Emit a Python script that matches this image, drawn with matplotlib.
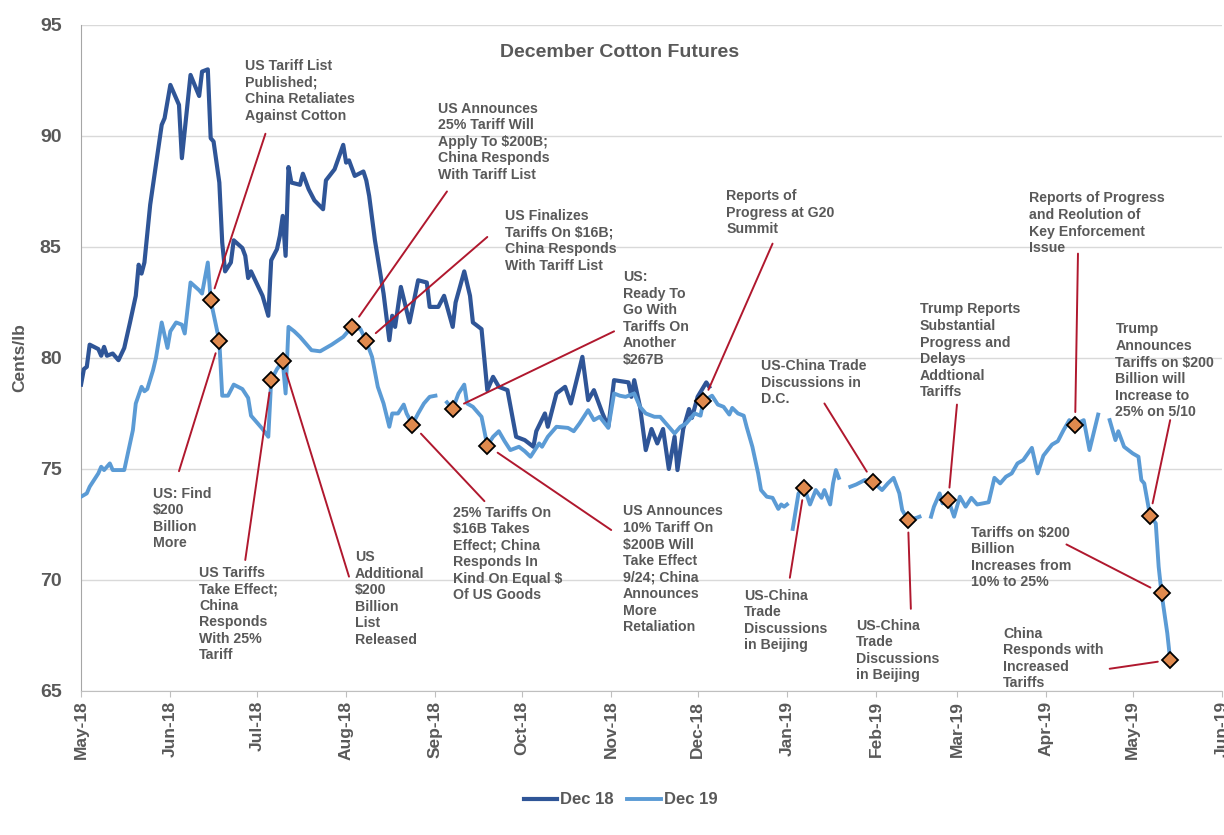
import matplotlib

matplotlib.use("Agg")
import matplotlib.pyplot as plt
import matplotlib.dates as mdates
import numpy as np
import pandas as pd

# Dec 18 contract settles (cents/lb)
dec18_dates = [
    "2018-05-01", "2018-05-02", "2018-05-03", "2018-05-04", "2018-05-07", "2018-05-08",
    "2018-05-09", "2018-05-10", "2018-05-12", "2018-05-14", "2018-05-16", "2018-05-18",
    "2018-05-20", "2018-05-21", "2018-05-22", "2018-05-23", "2018-05-25", "2018-05-27",
    "2018-05-29", "2018-05-30", "2018-06-01", "2018-06-04", "2018-06-05", "2018-06-08",
    "2018-06-11", "2018-06-12", "2018-06-14", "2018-06-15", "2018-06-16", "2018-06-18",
    "2018-06-19", "2018-06-20", "2018-06-22", "2018-06-23", "2018-06-26", "2018-06-27",
    "2018-06-28", "2018-06-29", "2018-07-03", "2018-07-05", "2018-07-06", "2018-07-08",
    "2018-07-09", "2018-07-10", "2018-07-11", "2018-07-12", "2018-07-13", "2018-07-16",
    "2018-07-17", "2018-07-19", "2018-07-21", "2018-07-24", "2018-07-25", "2018-07-28",
    "2018-07-31", "2018-08-01", "2018-08-02", "2018-08-04", "2018-08-07", "2018-08-08",
    "2018-08-09", "2018-08-11", "2018-08-13", "2018-08-14", "2018-08-16", "2018-08-17",
    "2018-08-18", "2018-08-20", "2018-08-23", "2018-08-26", "2018-08-29", "2018-08-30",
    "2018-09-02", "2018-09-04", "2018-09-07", "2018-09-08", "2018-09-11", "2018-09-13",
    "2018-09-14", "2018-09-17", "2018-09-19", "2018-09-21", "2018-09-23", "2018-09-26",
    "2018-09-29", "2018-10-02", "2018-10-05", "2018-10-06", "2018-10-09", "2018-10-10",
    "2018-10-13", "2018-10-16", "2018-10-18", "2018-10-22", "2018-10-24", "2018-10-26",
    "2018-10-29", "2018-10-31", "2018-11-02", "2018-11-07", "2018-11-08", "2018-11-09",
    "2018-11-11", "2018-11-13", "2018-11-15", "2018-11-17", "2018-11-19", "2018-11-21",
    "2018-11-23", "2018-11-24", "2018-11-26", "2018-11-28", "2018-11-29", "2018-12-01",
    "2018-12-04", "2018-12-05",
]
dec18_values = [
    78.8, 79.5, 79.6, 80.6, 80.4, 80.1,
    80.5, 80.1, 80.2, 79.9, 80.45, 81.6,
    82.8, 84.2, 83.8, 84.3, 86.9, 88.7,
    90.5, 90.8, 92.3, 91.4, 89.0, 92.75,
    91.8, 92.9, 93.0, 89.9, 89.75, 87.9,
    85.2, 83.9, 84.3, 85.3, 84.95, 84.6,
    83.6, 83.9, 82.8, 81.9, 84.4, 84.9,
    85.5, 86.4, 84.6, 88.6, 87.9, 87.8,
    88.3, 87.6, 87.1, 86.7, 88.0, 88.5,
    89.6, 88.8, 88.9, 88.2, 88.4, 88.0,
    87.3, 85.3, 83.7, 82.9, 80.8, 81.9,
    81.4, 83.2, 81.6, 83.5, 83.4, 82.3,
    82.3, 82.8, 81.4, 82.5, 83.9, 82.8,
    81.6, 81.3, 78.55, 79.15, 78.7, 78.55,
    76.45, 76.3, 76.0, 76.7, 77.5, 76.9,
    78.4, 78.7, 77.95, 80.05, 78.1, 78.55,
    77.5, 76.9, 79.0, 78.9, 78.25, 79.0,
    77.8, 75.85, 76.8, 76.15, 76.8, 75.0,
    76.45, 74.95, 76.8, 77.7, 77.3, 78.25,
    78.9, 78.7,
]

# Dec 19 contract settles (cents/lb); NaN marks holiday breaks
dec19_dates = [
    "2018-05-01", "2018-05-03", "2018-05-04", "2018-05-07", "2018-05-08", "2018-05-09",
    "2018-05-11", "2018-05-12", "2018-05-16", "2018-05-17", "2018-05-19", "2018-05-20",
    "2018-05-22", "2018-05-23", "2018-05-24", "2018-05-26", "2018-05-27", "2018-05-29",
    "2018-05-31", "2018-06-01", "2018-06-03", "2018-06-05", "2018-06-06", "2018-06-08",
    "2018-06-11", "2018-06-12", "2018-06-14", "2018-06-15", "2018-06-18", "2018-06-19",
    "2018-06-21", "2018-06-23", "2018-06-26", "2018-06-28", "2018-06-29", "2018-07-03",
    "2018-07-05", "2018-07-06", "2018-07-08", "2018-07-10", "2018-07-11", "2018-07-12",
    "2018-07-14", "2018-07-16", "2018-07-20", "2018-07-23", "2018-07-27", "2018-07-31",
    "2018-08-03", "2018-08-06", "2018-08-08", "2018-08-10", "2018-08-12", "2018-08-14",
    "2018-08-16", "2018-08-17", "2018-08-19", "2018-08-21", "2018-08-22", "2018-08-24",
    "2018-08-26", "2018-08-28", "2018-08-30", "2018-09-01", "2018-09-03", "2018-09-05",
    "2018-09-07", "2018-09-09", "2018-09-11", "2018-09-12", "2018-09-14", "2018-09-17",
    "2018-09-19", "2018-09-21", "2018-09-23", "2018-09-25", "2018-09-27", "2018-09-30",
    "2018-10-02", "2018-10-04", "2018-10-07", "2018-10-08", "2018-10-10", "2018-10-13",
    "2018-10-17", "2018-10-19", "2018-10-21", "2018-10-24", "2018-10-26", "2018-10-28",
    "2018-10-31", "2018-11-02", "2018-11-04", "2018-11-06", "2018-11-09", "2018-11-11",
    "2018-11-13", "2018-11-16", "2018-11-18", "2018-11-20", "2018-11-23", "2018-11-25",
    "2018-11-27", "2018-11-30", "2018-12-02", "2018-12-03", "2018-12-06", "2018-12-08",
    "2018-12-10", "2018-12-12", "2018-12-13", "2018-12-15", "2018-12-17", "2018-12-18",
    "2018-12-20", "2018-12-22", "2018-12-23", "2018-12-25", "2018-12-27", "2018-12-29",
    "2018-12-30", "2018-12-31", "2019-01-01", "2019-01-02", "2019-01-03", "2019-01-05",
    "2019-01-07", "2019-01-09", "2019-01-11", "2019-01-13", "2019-01-14", "2019-01-16",
    "2019-01-17", "2019-01-18", "2019-01-19", "2019-01-21", "2019-01-23", "2019-01-25",
    "2019-01-28", "2019-01-31", "2019-02-03", "2019-02-05", "2019-02-07", "2019-02-09",
    "2019-02-10", "2019-02-12", "2019-02-15", "2019-02-16", "2019-02-18", "2019-02-20",
    "2019-02-21", "2019-02-23", "2019-02-24", "2019-02-26", "2019-02-28", "2019-03-02",
    "2019-03-04", "2019-03-06", "2019-03-08", "2019-03-12", "2019-03-13", "2019-03-14",
    "2019-03-16", "2019-03-18", "2019-03-20", "2019-03-22", "2019-03-24", "2019-03-27",
    "2019-03-29", "2019-03-31", "2019-04-03", "2019-04-05", "2019-04-07", "2019-04-09",
    "2019-04-11", "2019-04-14", "2019-04-16", "2019-04-19", "2019-04-21", "2019-04-23",
    "2019-04-25", "2019-04-26", "2019-04-28", "2019-05-01", "2019-05-03", "2019-05-04",
    "2019-05-05", "2019-05-07", "2019-05-09", "2019-05-10", "2019-05-11", "2019-05-13",
    "2019-05-14",
]
dec19_values = [
    73.75, 73.9, 74.2, 74.8, 75.1, 74.95,
    75.25, 74.95, 74.95, 75.55, 76.75, 77.95,
    78.7, 78.5, 78.6, 79.45, 80.0, 81.6,
    80.45, 81.2, 81.6, 81.5, 81.1, 83.4,
    83.05, 82.9, 84.3, 82.6, 80.75, 78.3,
    78.3, 78.8, 78.6, 78.2, 77.4, 76.8,
    76.45, 79.0, 79.5, 79.85, 78.4, 81.4,
    81.2, 80.95, 80.35, 80.3, 80.6, 80.95,
    81.4, 81.3, 80.75, 80.05, 78.7, 77.95,
    76.9, 77.5, 77.5, 77.9, 77.5, 77.0,
    77.5, 77.95, 78.25, 78.3, np.nan, 78.0,
    77.7, 78.4, 78.8, 77.95, 77.8, 77.35,
    76.05, 76.45, 76.7, 76.25, 75.85, 76.0,
    75.8, 75.55, 76.15, 76.0, 76.45, 76.9,
    76.85, 76.7, 77.05, 77.65, 77.2, 77.35,
    76.85, 78.4, 78.3, 78.25, 78.4, 77.8,
    77.5, 77.35, 77.35, 77.05, 76.6, 76.9,
    77.05, 77.5, 77.4, 78.05, 78.3, 77.9,
    77.8, 77.45, 77.75, 77.5, 77.4, 76.9,
    76.0, 74.8, 74.05, 73.75, 73.7, 73.2,
    73.4, 73.3, 73.4, np.nan, 72.3, 73.9,
    74.15, 73.4, 74.05, 73.7, 74.05, 73.4,
    74.35, 74.95, 74.6, np.nan, 74.2, 74.3,
    74.5, 74.4, 74.05, 74.35, 74.6, 73.9,
    73.15, 72.7, 72.8, 72.85, np.nan, 72.85,
    73.3, 73.9, 73.45, 73.6, 72.85, 73.75,
    73.3, 73.7, 73.4, 73.5, 74.05, 74.6,
    74.35, 74.65, 74.8, 75.25, 75.4, 75.95,
    74.8, 75.6, 76.1, 76.25, 76.75, 77.2,
    77.0, 77.2, 75.85, 77.45, np.nan, 77.2,
    76.3, 76.7, 76.0, 75.7, 75.55, 74.5,
    74.35, 72.9, 72.55, 70.6, 69.4, 67.6,
    66.4,
]

# trade-war events, marked on the Dec 19 line
event_dates = [
    "2018-06-15", "2018-06-18", "2018-07-06", "2018-07-10", "2018-08-03", "2018-08-08",
    "2018-08-24", "2018-09-07", "2018-09-19", "2018-12-03", "2019-01-07", "2019-01-31",
    "2019-02-12", "2019-02-26", "2019-04-11", "2019-05-07", "2019-05-11", "2019-05-14",
]
event_labels = [
    "US Tariff List\nPublished;\nChina Retaliates\nAgainst Cotton",
    "US: Find\n$200\nBillion\nMore",
    "US Tariffs\nTake Effect;\nChina\nResponds\nWith 25%\nTariff",
    "US\nAdditional\n$200\nBillion\nList\nReleased",
    "US Announces\n25% Tariff Will\nApply To $200B;\nChina Responds\nWith Tariff List",
    "US Finalizes\nTariffs On $16B;\nChina Responds\nWith Tariff List",
    "25% Tariffs On\n$16B Takes\nEffect; China\nResponds In\nKind On Equal $\nOf US Goods",
    "US:\nReady To\nGo With\nTariffs On\nAnother\n$267B",
    "US Announces\n10% Tariff On\n$200B Will\nTake Effect\n9/24; China\nAnnounces\nMore\nRetaliation",
    "Reports of\nProgress at G20\nSummit",
    "US-China\nTrade\nDiscussions\nin Beijing",
    "US-China Trade\nDiscussions in\nD.C.",
    "US-China\nTrade\nDiscussions\nin Beijing",
    "Trump Reports\nSubstantial\nProgress and\nDelays\nAddtional\nTariffs",
    "Reports of Progress\nand Reolution of\nKey Enforcement\nIssue",
    "Trump\nAnnounces\nTariffs on $200\nBillion will\nIncrease to\n25% on 5/10",
    "Tariffs on $200\nBillion\nIncreases from\n10% to 25%",
    "China\nResponds with\nIncreased\nTariffs",
]

# label placement: (top-left of text, far end of leader line), in data units
label_layout = [
    (("2018-06-27", 93.45), ("2018-07-04", 90.1)),
    (("2018-05-26", 74.2), ("2018-06-04", 74.9)),
    (("2018-06-11", 70.65), ("2018-06-27", 70.9)),
    (("2018-08-04", 71.35), ("2018-08-02", 70.15)),
    (("2018-09-02", 91.55), ("2018-09-05", 87.5)),
    (("2018-09-25", 86.7), ("2018-09-19", 85.45)),
    (("2018-09-07", 73.35), ("2018-09-18", 73.55)),
    (("2018-11-05", 83.95), ("2018-11-02", 81.2)),
    (("2018-11-05", 73.4), ("2018-11-01", 72.25)),
    (("2018-12-11", 87.6), ("2018-12-27", 85.15)),
    (("2018-12-17", 69.6), ("2019-01-02", 70.1)),
    (("2018-12-23", 79.95), ("2019-01-14", 77.95)),
    (("2019-01-25", 68.25), ("2019-02-13", 68.7)),
    (("2019-02-16", 82.5), ("2019-03-01", 77.9)),
    (("2019-03-26", 87.5), ("2019-04-12", 84.7)),
    (("2019-04-25", 81.6), ("2019-05-14", 77.2)),
    (("2019-03-06", 72.45), ("2019-04-08", 71.6)),
    (("2019-03-17", 67.9), ("2019-04-23", 66.0)),
]

TEXT = "#595959"
DARK = "#2F5597"
LIGHT = "#5B9BD5"
RED = "#B0182E"

plt.rcParams["font.family"] = ["Liberation Sans", "DejaVu Sans"]

dec18 = pd.Series(dec18_values, index=pd.to_datetime(dec18_dates))
dec19 = pd.Series(dec19_values, index=pd.to_datetime(dec19_dates))
ev_idx = pd.to_datetime(event_dates)
ev_vals = dec19.loc[ev_idx]

fig = plt.figure(figsize=(12.24, 8.35), dpi=100)
ax = fig.add_axes([0.0662, 0.1725, 0.9322, 0.7976])

ax.plot(dec18.index, dec18.values, color=DARK, lw=3, zorder=3, label="Dec 18")
ax.plot(dec19.index, dec19.values, color=LIGHT, lw=2.8, zorder=3.5, label="Dec 19")

for (tpos, lpos), date, val, text in zip(label_layout, ev_idx, ev_vals.values, event_labels):
    ax.annotate(
        "",
        xy=(date, val),
        xytext=(pd.Timestamp(lpos[0]), lpos[1]),
        arrowprops=dict(arrowstyle="-", color=RED, lw=1.4, shrinkA=0, shrinkB=9),
        zorder=4,
    )
    ax.text(
        pd.Timestamp(tpos[0]), tpos[1], text,
        ha="left", va="top", fontsize=10.2, fontweight="bold", color=TEXT,
        linespacing=1.23, zorder=6, clip_on=False,
    )

ax.plot(ev_idx, ev_vals.values, linestyle="none", marker="D", ms=8,
        mfc="#E08A4E", mec="black", mew=1.3, zorder=5)

ax.set_xlim(pd.Timestamp("2018-05-01"), pd.Timestamp("2019-06-01"))
ax.set_ylim(65, 95)
ax.set_yticks(np.arange(65, 96, 5))
ax.xaxis.set_major_locator(mdates.MonthLocator())
ax.xaxis.set_major_formatter(mdates.DateFormatter("%b-%y"))

ax.grid(axis="y", color="#D9D9D9", lw=1)
ax.set_axisbelow(True)
for side in ("top", "right"):
    ax.spines[side].set_visible(False)
ax.spines["left"].set_color("#A6A6A6")
ax.spines["bottom"].set_color("#BFBFBF")

ax.tick_params(axis="y", length=0, pad=14, labelsize=14, labelcolor=TEXT)
ax.tick_params(axis="x", length=4, color="#BFBFBF", pad=3, labelsize=12.5,
               labelcolor=TEXT, labelrotation=90)
for lbl in ax.get_xticklabels() + ax.get_yticklabels():
    lbl.set_fontweight("bold")

ax.text(0.4724, 0.958, "December Cotton Futures", transform=ax.transAxes,
        ha="center", va="center", fontsize=14, fontweight="bold", color=TEXT)
fig.text(20 / 1224, 1 - 358 / 835, "Cents/lb", rotation=90, ha="center", va="center",
         fontsize=12.5, fontweight="bold", color=TEXT)

leg = fig.legend(loc="center", bbox_to_anchor=(0.507, 0.042), ncol=2, frameon=False,
                 handlelength=2.0, handletextpad=0.2, columnspacing=0.8,
                 prop={"size": 12, "weight": "bold"})
for t in leg.get_texts():
    t.set_color(TEXT)

plt.savefig("out.png", dpi=100)
plt.close()
